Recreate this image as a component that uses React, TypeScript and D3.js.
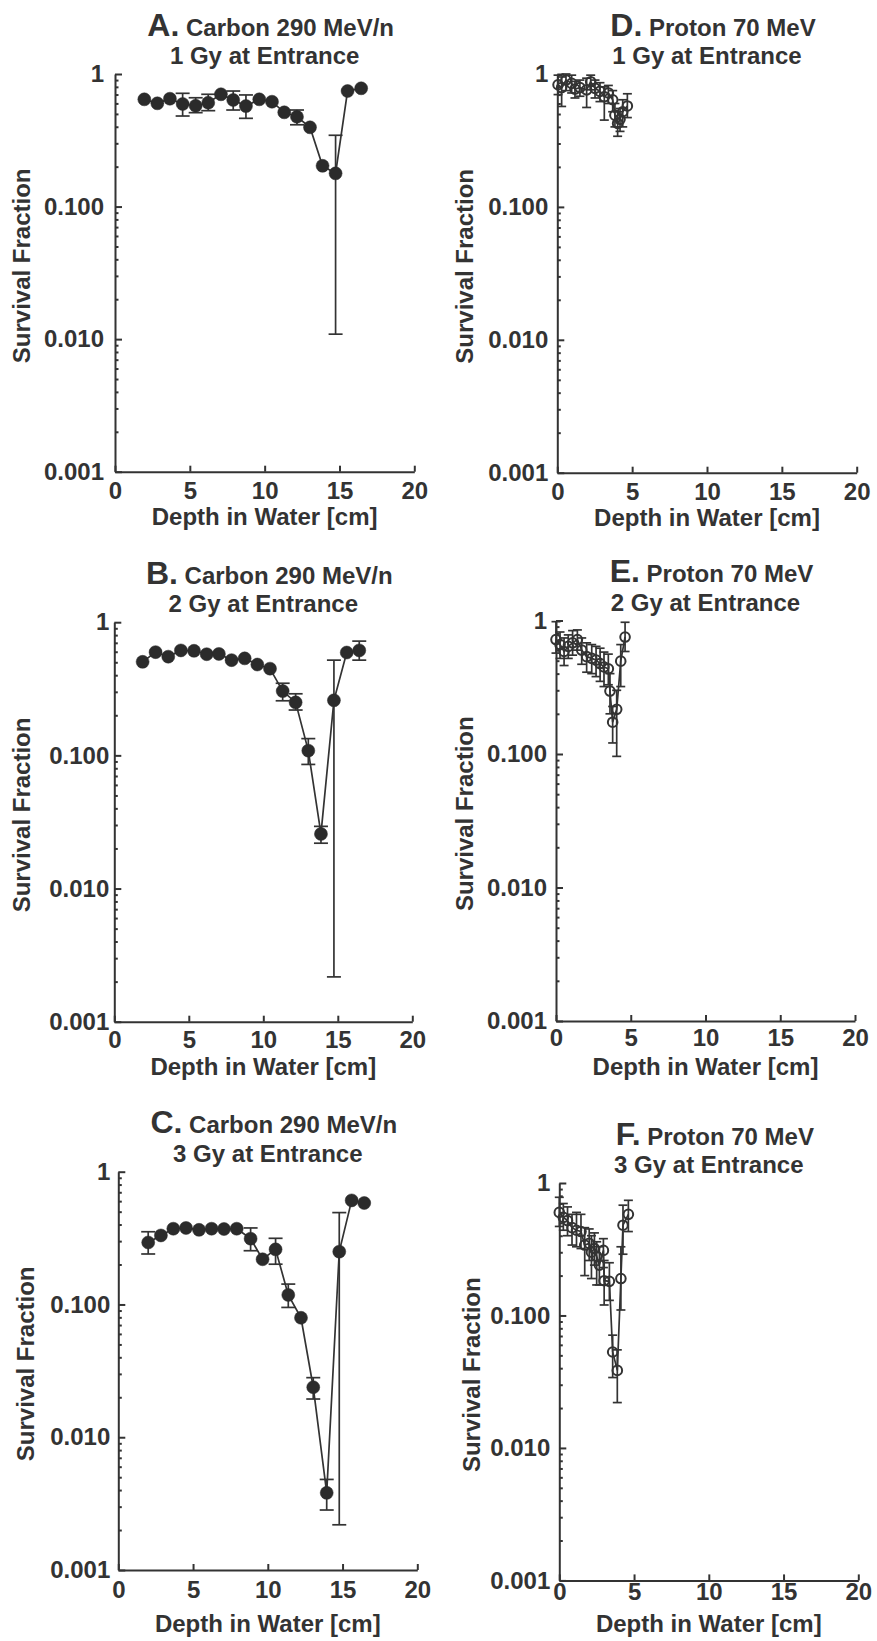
import React, { useEffect, useRef } from "react";
import * as d3 from "d3";

// Carbon 290 MeV/n, 1 Gy at entrance
const depthA = [1.96, 2.83, 3.67, 4.52, 5.39, 6.23, 7.08, 7.9, 8.75, 9.64, 10.49, 11.31, 12.16, 13.03, 13.87, 14.74, 15.54, 16.45];
const survA = [0.644, 0.601, 0.651, 0.594, 0.576, 0.607, 0.703, 0.637, 0.573, 0.644, 0.618, 0.514, 0.476, 0.396, 0.203, 0.178, 0.744, 0.78];
const loA = [null, null, null, 0.482, 0.511, 0.529, null, 0.535, 0.463, null, null, null, 0.414, null, null, 0.0109, null, null];
const hiA = [null, null, null, 0.715, 0.662, 0.703, null, 0.744, 0.695, null, null, null, 0.535, null, null, 0.345, null, null];

// Carbon 290 MeV/n, 2 Gy at entrance
const depthB = [1.9, 2.77, 3.62, 4.47, 5.35, 6.2, 7.02, 7.87, 8.75, 9.6, 10.45, 11.3, 12.17, 13.02, 13.87, 14.74, 15.6, 16.44];
const survB = [0.504, 0.596, 0.551, 0.614, 0.61, 0.575, 0.578, 0.519, 0.535, 0.481, 0.448, 0.304, 0.25, 0.1085, 0.0257, 0.259, 0.592, 0.614];
const loB = [null, null, null, null, null, null, null, null, null, null, null, 0.257, 0.219, 0.0855, 0.0219, 0.00217, null, 0.519];
const hiB = [null, null, null, null, null, null, null, null, null, null, null, 0.348, 0.29, 0.1336, 0.0293, 0.519, null, 0.721];

// Carbon 290 MeV/n, 3 Gy at entrance
const depthC = [2.0, 2.85, 3.68, 4.53, 5.4, 6.24, 7.07, 7.92, 8.85, 9.65, 10.52, 11.37, 12.22, 13.04, 13.94, 14.78, 15.61, 16.45];
const survC = [0.293, 0.331, 0.372, 0.377, 0.365, 0.372, 0.37, 0.372, 0.313, 0.219, 0.26, 0.118, 0.0794, 0.0238, 0.00381, 0.25, 0.608, 0.581];
const loC = [0.24, null, null, null, null, null, null, null, 0.254, null, 0.201, 0.095, null, 0.0194, 0.00283, 0.00219, null, null];
const hiC = [0.353, null, null, null, null, null, null, null, 0.377, null, 0.315, 0.1424, null, 0.0281, 0.00481, 0.492, null, null];

// Proton 70 MeV, 1 Gy at entrance
const depthD = [0.05, 0.29, 0.58, 0.96, 1.18, 1.51, 1.96, 2.23, 2.52, 2.85, 3.14, 3.41, 3.7, 3.85, 4.03, 4.19, 4.37, 4.68];
const survD = [0.83, 0.79, 0.9, 0.85, 0.77, 0.79, 0.76, 0.875, 0.78, 0.74, 0.675, 0.72, 0.64, 0.49, 0.425, 0.456, 0.52, 0.575];
const loD = [0.7, 0.57, 0.75, 0.72, 0.66, 0.68, 0.56, 0.76, 0.66, 0.62, 0.45, 0.6, 0.52, 0.4, 0.34, 0.37, 0.4, 0.47];
const hiD = [0.98, 0.95, 1.0, 0.98, 0.88, 0.9, 0.93, 0.98, 0.9, 0.86, 0.8, 0.82, 0.75, 0.6, 0.52, 0.55, 0.64, 0.71];

// Proton 70 MeV, 2 Gy at entrance
const depthE = [0.0, 0.27, 0.54, 0.82, 1.11, 1.43, 1.72, 2.05, 2.39, 2.68, 2.95, 3.21, 3.5, 3.61, 3.79, 4.06, 4.33, 4.62];
const survE = [0.72, 0.66, 0.586, 0.64, 0.68, 0.72, 0.6, 0.536, 0.52, 0.505, 0.476, 0.449, 0.435, 0.296, 0.173, 0.216, 0.496, 0.752];
const loE = [0.57, 0.52, 0.46, 0.52, 0.55, 0.6, 0.47, 0.41, 0.4, 0.38, 0.35, 0.32, 0.33, 0.2, 0.121, 0.096, 0.32, 0.586];
const hiE = [0.98, 0.82, 0.74, 0.78, 0.84, 0.85, 0.74, 0.68, 0.66, 0.64, 0.62, 0.58, 0.56, 0.4, 0.227, 0.3, 0.66, 0.97];

// Proton 70 MeV, 3 Gy at entrance
const depthF = [0.0, 0.27, 0.55, 0.85, 1.15, 1.45, 1.7, 2.0, 2.15, 2.35, 2.5, 2.68, 2.95, 3.0, 3.35, 3.57, 3.88, 4.12, 4.26, 4.62];
const survF = [0.6, 0.55, 0.52, 0.46, 0.44, 0.43, 0.34, 0.35, 0.3, 0.32, 0.28, 0.24, 0.31, 0.183, 0.181, 0.053, 0.0385, 0.19, 0.48, 0.58];
const loF = [0.47, 0.44, 0.4, 0.34, 0.33, 0.32, 0.2, 0.26, 0.19, 0.24, 0.17, 0.17, 0.23, 0.12, 0.13, 0.034, 0.022, 0.11, 0.29, 0.43];
const hiF = [0.78, 0.7, 0.66, 0.58, 0.6, 0.58, 0.46, 0.45, 0.4, 0.42, 0.36, 0.33, 0.38, 0.26, 0.25, 0.071, 0.055, 0.33, 0.68, 0.74];

const xTicks = [0, 5, 10, 15, 20];
const xTickLabels = ["0", "5", "10", "15", "20"];
const yTicks = [1, 0.1, 0.01, 0.001];
const yTickLabels = ["1", "0.100", "0.010", "0.001"];

const INK = "#333";
const FONT = "'Liberation Sans', Arial, Helvetica, sans-serif";

const panels = [
  { letter: "A.", beam: " Carbon 290 MeV/n", dose: "1 Gy at Entrance", depth: depthA, surv: survA, lo: loA, hi: hiA, filled: true,
    box: { left: 115, right: 414.3, top: 74, bottom: 471.7 }, yPad: 11, xPad: 10, yLabelX: 30, xLabelDy: 53 },
  { letter: "B.", beam: " Carbon 290 MeV/n", dose: "2 Gy at Entrance", depth: depthB, surv: survB, lo: loB, hi: hiB, filled: true,
    box: { left: 114.3, right: 412.3, top: 622.2, bottom: 1021.7 }, yPad: 5, xPad: 9, yLabelX: 30, xLabelDy: 53 },
  { letter: "C.", beam: " Carbon 290 MeV/n", dose: "3 Gy at Entrance", depth: depthC, surv: survC, lo: loC, hi: hiC, filled: true,
    box: { left: 118.3, right: 417.3, top: 1171.7, bottom: 1570 }, yPad: 8, xPad: 11, yLabelX: 34, xLabelDy: 62 },
  { letter: "D.", beam: " Proton 70 MeV", dose: "1 Gy at Entrance", depth: depthD, surv: survD, lo: loD, hi: hiD, filled: false,
    box: { left: 557.3, right: 856.7, top: 74, bottom: 472.7 }, yPad: 9, xPad: 10, yLabelX: 473, xLabelDy: 53 },
  { letter: "E.", beam: " Proton 70 MeV", dose: "2 Gy at Entrance", depth: depthE, surv: survE, lo: loE, hi: hiE, filled: false,
    box: { left: 556, right: 855, top: 620.5, bottom: 1021 }, yPad: 9, xPad: 8, yLabelX: 473, xLabelDy: 54 },
  { letter: "F.", beam: " Proton 70 MeV", dose: "3 Gy at Entrance", depth: depthF, surv: survF, lo: loF, hi: hiF, filled: false,
    box: { left: 559.3, right: 858.3, top: 1183, bottom: 1580.4 }, yPad: 9, xPad: 3, yLabelX: 480, xLabelDy: 52 },
];

const minorTicks: number[] = [];
for (let e = -3; e < 0; e++) {
  for (let k = 2; k < 10; k++) minorTicks.push(+(k * Math.pow(10, e)).toPrecision(3));
}

const styleAxis = (g: any) => {
  g.attr("color", INK)
    .attr("font-size", 24)
    .attr("font-family", FONT)
    .attr("font-weight", "bold");
  g.selectAll("line").attr("stroke-width", 2);
  g.selectAll("path").attr("stroke-width", 2);
  g.selectAll("text").attr("fill", INK);
};

const App = () => {
  const ref = useRef<SVGSVGElement>(null);

  useEffect(() => {
    const svg = d3.select(ref.current);
    svg.selectAll("*").remove();

    panels.forEach((p) => {
      const b = p.box;
      const x = d3.scaleLinear().domain([0, 20]).range([b.left, b.right]);
      const y = d3.scaleLog().domain([0.001, 1]).range([b.bottom, b.top]);
      const mid = (b.left + b.right) / 2;
      const g = svg.append("g");

      // minor log ticks, pointing inward
      g.append("g")
        .attr("transform", `translate(${b.left},0)`)
        .call(d3.axisLeft(y).tickValues(minorTicks).tickSize(-3.5).tickFormat(() => ""))
        .call((s: any) => s.select(".domain").remove())
        .call(styleAxis);

      g.append("g")
        .attr("transform", `translate(${b.left},0)`)
        .call(
          d3.axisLeft(y)
            .tickValues(yTicks)
            .tickFormat((d, i) => yTickLabels[i])
            .tickSizeInner(-7)
            .tickSizeOuter(0)
            .tickPadding(p.yPad)
        )
        .call(styleAxis);

      g.append("g")
        .attr("transform", `translate(0,${b.bottom})`)
        .call(
          d3.axisBottom(x)
            .tickValues(xTicks)
            .tickFormat((d, i) => xTickLabels[i])
            .tickSizeInner(-6)
            .tickSizeOuter(0)
            .tickPadding(p.xPad)
        )
        .call(styleAxis);

      const pts = p.depth.map((d, i) => ({ d, s: p.surv[i], lo: p.lo[i], hi: p.hi[i] }));

      g.append("path")
        .datum(pts)
        .attr("fill", "none")
        .attr("stroke", INK)
        .attr("stroke-width", 1.7)
        .attr("d", d3.line<any>().x((q) => x(q.d)).y((q) => y(q.s)));

      const cap = p.filled ? 7 : 4.5;
      const bars = g.append("g").attr("stroke", INK).attr("stroke-width", 1.7);
      pts.filter((q) => q.lo != null).forEach((q) => {
        const cx = x(q.d);
        bars.append("line").attr("x1", cx).attr("x2", cx).attr("y1", y(q.lo)).attr("y2", y(q.hi));
        bars.append("line").attr("x1", cx - cap).attr("x2", cx + cap).attr("y1", y(q.lo)).attr("y2", y(q.lo));
        bars.append("line").attr("x1", cx - cap).attr("x2", cx + cap).attr("y1", y(q.hi)).attr("y2", y(q.hi));
      });

      g.append("g")
        .selectAll("circle")
        .data(pts)
        .join("circle")
        .attr("cx", (q) => x(q.d))
        .attr("cy", (q) => y(q.s))
        .attr("r", p.filled ? 6.5 : 4.8)
        .attr("fill", p.filled ? "#2b2b2b" : "none")
        .attr("stroke", p.filled ? "#2b2b2b" : INK)
        .attr("stroke-width", p.filled ? 0.5 : 2);

      const txt = g.append("g")
        .attr("font-family", FONT)
        .attr("font-weight", "bold")
        .attr("fill", INK)
        .attr("text-anchor", "middle");

      const t = txt.append("text").attr("x", mid + 6).attr("y", b.top - 38.5);
      t.append("tspan").attr("font-size", 32).text(p.letter);
      t.append("tspan").attr("font-size", 24).text(p.beam);

      txt.append("text").attr("x", mid).attr("y", b.top - 10).attr("font-size", 24).text(p.dose);

      txt.append("text")
        .attr("font-size", 24)
        .attr("transform", `translate(${p.yLabelX},${(b.top + b.bottom) / 2 - 7}) rotate(-90)`)
        .text("Survival Fraction");

      txt.append("text")
        .attr("font-size", 24)
        .attr("x", mid)
        .attr("y", b.bottom + p.xLabelDy)
        .text("Depth in Water [cm]");
    });
  }, []);

  return (
    <svg
      ref={ref}
      width={877}
      height={1641}
      style={{ position: "absolute", left: 0, top: 0, background: "#fff" }}
    />
  );
};

export default App;
